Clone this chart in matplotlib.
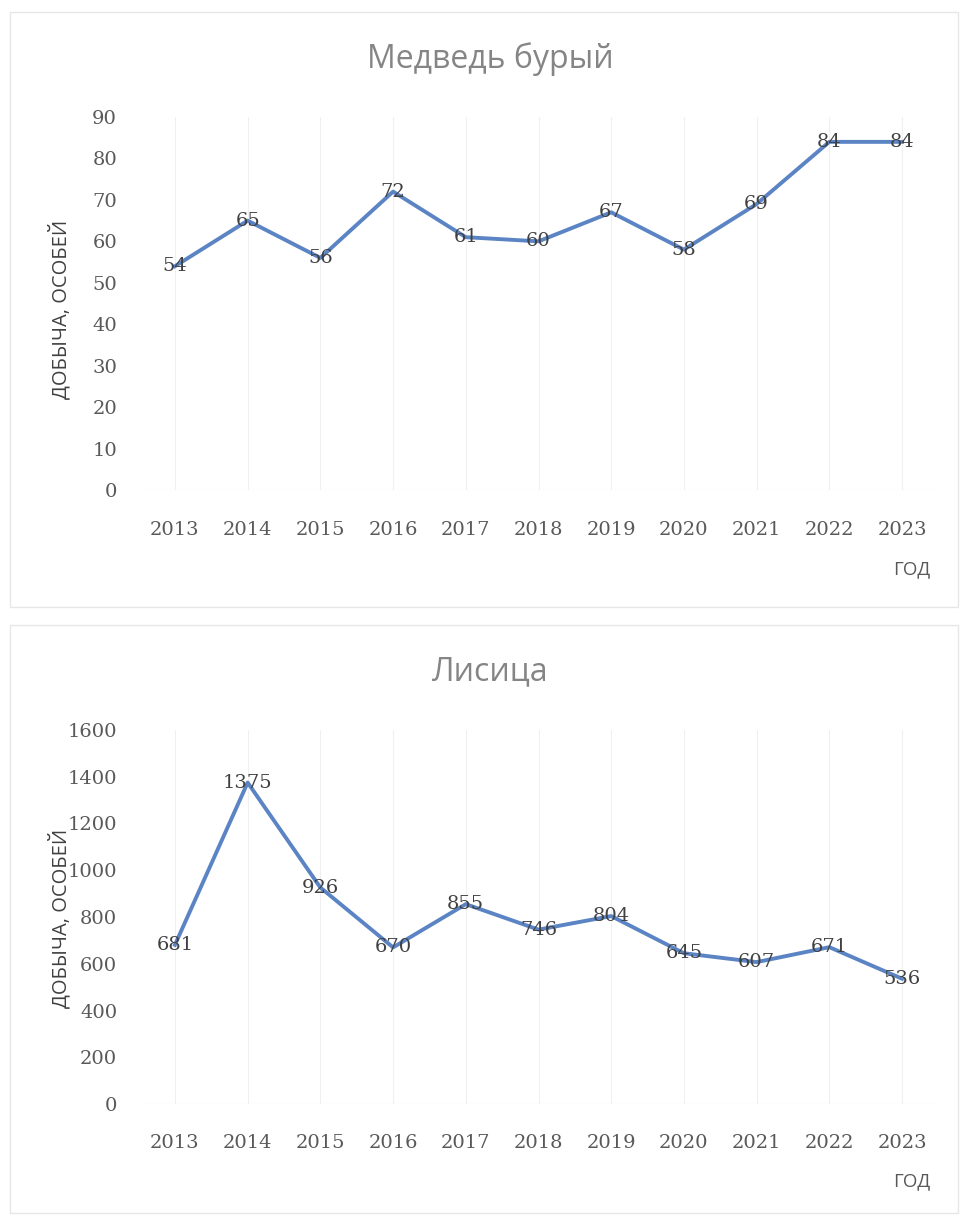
import matplotlib.pyplot as plt
from matplotlib.patches import Rectangle

years = ['2013', '2014', '2015', '2016', '2017', '2018', '2019', '2020', '2021', '2022', '2023']
bear = [54, 65, 56, 72, 61, 60, 67, 58, 69, 84, 84]
fox = [681, 1375, 926, 670, 855, 746, 804, 645, 607, 671, 536]

bear_ticks = [0, 10, 20, 30, 40, 50, 60, 70, 80, 90]
fox_ticks = [0, 200, 400, 600, 800, 1000, 1200, 1400, 1600]

LINE = '#5b84c4'
SANS = ['Open Sans', 'DejaVu Sans']
SERIF = ['DejaVu Serif']

fig = plt.figure(figsize=(9.6, 12.15), dpi=100)
W, H = 960, 1215


def px(x0, y0, x1, y1):
    # pixel box (top-left origin) -> figure fraction rect
    return [x0 / W, 1 - y1 / H, (x1 - x0) / W, (y1 - y0) / H]


def panel(box, title, title_y, vals, ticks, top_px, zero_px, year_y, god_y, ylab_y):
    # light frame around the chart
    x0, y0, x1, y1 = box
    fig.patches.append(Rectangle((x0 / W, 1 - y1 / H), (x1 - x0) / W, (y1 - y0) / H,
                                 transform=fig.transFigure, fill=False,
                                 edgecolor='#e6e6e6', linewidth=1.0))
    ax = fig.add_axes(px(138.6, top_px, 938.4, zero_px))
    xs = list(range(len(years)))
    ax.plot(xs, vals, color=LINE, linewidth=2.8, solid_joinstyle='round')
    for x, v in zip(xs, vals):
        ax.text(x, v, str(v), ha='center', va='center', fontsize=14,
                family=SERIF, color='#404040')
    ax.set_xlim(-0.5, len(years) - 0.5)
    ax.set_ylim(ticks[0], ticks[-1])
    ax.set_yticks(ticks)
    ax.set_yticklabels([str(t) for t in ticks], family=SERIF, fontsize=14, color='#595959')
    ax.set_xticks(xs)
    ax.set_xticklabels(years, family=SERIF, fontsize=14, color='#595959')
    for lbl in ax.get_xticklabels():
        lbl.set_va('center')
    ax.tick_params(length=0)
    ax.tick_params(axis='y', pad=15.5)
    ax.tick_params(axis='x', pad=(year_y - zero_px) * 0.72)
    for s in ax.spines.values():
        s.set_visible(False)
    for x in xs:
        ax.axvline(x, color='#f0f0f0', linewidth=0.8, zorder=0)
    ax.axhline(0, color='#e8e8e8', linewidth=0.8, zorder=0)
    fig.text(490 / W, 1 - title_y / H, title, ha='center', va='center',
             fontsize=23, family=SANS, color='#858585')
    fig.text(912 / W, 1 - god_y / H, 'ГОД', ha='center', va='center',
             fontsize=13.5, family=SANS, color='#595959')
    fig.text(60 / W, 1 - ylab_y / H, 'ДОБЫЧА, ОСОБЕЙ', rotation=90,
             ha='center', va='center', fontsize=14.5, family=SANS, color='#404040')
    return ax


panel((10, 12, 958, 607), 'Медведь бурый', 59, bear, bear_ticks, 117, 490, 530, 569, 309)
panel((10, 625, 958, 1213), 'Лисица', 672, fox, fox_ticks, 730, 1104, 1143, 1181, 918)

fig.savefig('out.png', dpi=100, facecolor='white')
